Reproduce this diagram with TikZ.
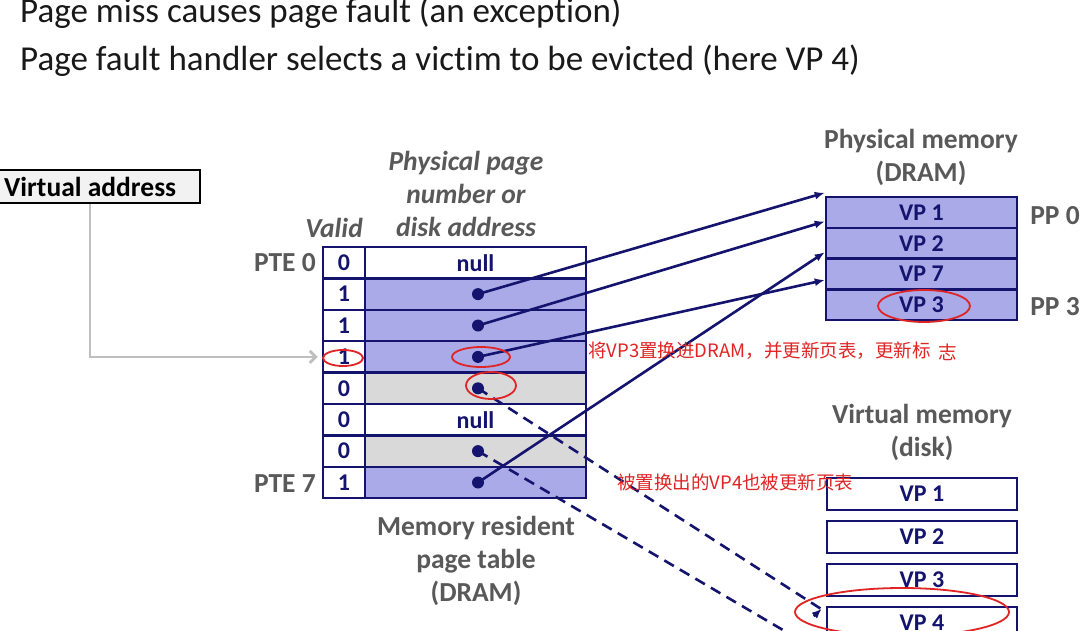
\documentclass[tikz,border=0pt]{standalone}
\usepackage{fontspec}
\setmainfont[Ligatures=NoCommon]{Carlito}
\newfontfamily\cjk{Noto Sans CJK SC}
\usetikzlibrary{arrows.meta,calc}
\definecolor{navy}{HTML}{14146E}
\definecolor{pblue}{HTML}{AAAAE8}
\definecolor{pgrey}{HTML}{D9D9D9}
\definecolor{lbl}{HTML}{595959}
\definecolor{ared}{HTML}{E02424}
\definecolor{vafill}{HTML}{F2F2F2}
\definecolor{conngrey}{HTML}{BFBFBF}
\tikzset{
  cell/.style={draw=navy, line width=2.5pt, inner sep=0pt, font=\bfseries\fontsize{24}{28}\selectfont, text=navy},
  vcell/.style={cell, fill=white, minimum width=42pt, minimum height=31.4pt},
  pcell/.style={cell, minimum width=221pt, minimum height=31.4pt},
  mcell/.style={cell, fill=pblue, minimum width=191pt, minimum height=30.75pt},
  dcell/.style={cell, fill=white, minimum width=190pt, minimum height=32pt},
  dotn/.style={circle, fill=navy, inner sep=0pt, minimum size=12pt},
  ptr/.style={navy, line width=2.6pt, -{Latex[length=10pt,width=8pt]}},
  dptr/.style={navy, line width=2.6pt, dash pattern=on 11pt off 7pt},
  glabel/.style={text=lbl, font=\bfseries\fontsize{27.5}{33}\selectfont, align=center, inner sep=0pt},
  ilabel/.style={glabel, font=\bfseries\itshape\fontsize{27.5}{33}\selectfont},
  note/.style={text=ared, font=\cjk\fontsize{18.5}{20}\selectfont, inner sep=0pt, anchor=base west},
  redring/.style={draw=ared, line width=1.8pt},
  title/.style={font=\fontsize{35}{40}\selectfont, inner sep=0pt, anchor=base west, text=black!90}
}
\begin{document}
\begin{tikzpicture}[x=1pt,y=-1pt]
\useasboundingbox (0,0) rectangle (1080,630);
\clip (0,0) rectangle (1080,630);
\fill[white] (0,0) rectangle (1080,630);

% title lines
\node[title] (t1) at (20,22) {Page miss causes page fault (an exception)};
\node[title] (t2) at (20,70) {Page fault handler selects a victim to be evicted (here VP 4)};

% virtual address
\node[draw=black, line width=1.2pt, fill=vafill, minimum width=201pt, minimum height=33pt, inner sep=0pt] (va) at (99.5,186.5) {};
\node[anchor=west, inner sep=0pt, font=\bfseries\fontsize{27.5}{30}\selectfont] (vat) at (4,187) {Virtual address};

% page table
\foreach \i/\v/\f in {0/0/white,1/1/pblue,2/1/pblue,3/1/pblue,4/0/pgrey,5/0/white,6/0/pgrey,7/1/pblue}{
  \node[vcell] (v\i) at (344, {247+31.4*(\i+0.5)}) {\v};
  \node[pcell, fill=\f] (p\i) at (475.5, {247+31.4*(\i+0.5)}) {};
}
\node[text=navy, font=\bfseries\fontsize{24}{28}\selectfont] (n0) at (p0) {null};
\node[text=navy, font=\bfseries\fontsize{24}{28}\selectfont] (n5) at (p5) {null};
\foreach \i in {1,2,3,4,6,7}{
  \node[dotn] (d\i) at (478, {247+31.4*(\i+0.5)}) {};
}

\node[glabel, anchor=east] (pte0) at (316,263) {PTE 0};
\node[glabel, anchor=east] (pte7) at (316,484) {PTE 7};
\node[ilabel] (valid) at (334,228) {Valid};
\node[ilabel] (ppn) at (466,194) {Physical page\\number or\\disk address};
\node[glabel] (mrpt) at (476,561) {Memory resident\\page table\\(DRAM)};

% physical memory
\foreach \i/\t in {1/VP 1,2/VP 2,3/VP 7,4/VP 3}{
  \node[mcell] (m\i) at (921.5, {197+30.75*(\i-0.5)}) {\t};
}
\node[glabel] (pmh) at (921,157) {Physical memory\\(DRAM)};
\node[glabel] (pp0) at (1055,216) {PP 0};
\node[glabel] (pp3) at (1055,307) {PP 3};

% virtual memory (disk)
\node[glabel] (vmh) at (922,432) {Virtual memory\\(disk)};
\node[dcell] (k1) at (922,494) {VP 1};
\node[dcell] (k2) at (922,537) {VP 2};
\node[dcell] (k3) at (922,580) {VP 3};
\node[dcell] (k4) at (922,623) {VP 4};

% connectors
\draw[conngrey, line width=2.8pt, -{Straight Barb[length=6pt,width=12pt]}]
  ([xshift=-9.5pt]va.south) |- ([xshift=-4pt]v3.west);
\draw[ptr] (d1.center) -- ([yshift=3pt]m1.north west);
\draw[ptr] (d2.center) -- ([yshift=5pt]m2.north west);
\draw[ptr] (d7.center) -- ([yshift=5pt]m3.north west);
\draw[ptr] (d3.center) -- ([yshift=8pt]m4.north west);
\coordinate (off) at (800,640);
\draw[dptr] (d4.center) -- ([xshift=-5pt,yshift=-3pt]k4.north west);
\draw[navy, -{Latex[length=10pt,width=8pt]}, line width=2.6pt] ([xshift=-12pt,yshift=-10.5pt]k4.north west) -- ([xshift=-4pt,yshift=-3pt]k4.north west);
\draw[dptr] (d6.center) -- (off);

% red annotations
\node[note] (c1) at (588,357) {将VP3置换进DRAM，并更新页表，更新标\hspace{8pt}\raisebox{-2pt}{志}};
\node[note] (c2) at (617,489) {被置换出的VP4也被更新页表};
\draw[redring] (343,358) ellipse [x radius=20, y radius=8];
\draw[redring] (481,357) ellipse [x radius=29, y radius=10];
\draw[redring] (491,385.5) ellipse [x radius=25, y radius=13.5];
\draw[redring] (924,306) ellipse [x radius=46, y radius=16];
\draw[redring] (902,612) ellipse [x radius=107, y radius=24];
\end{tikzpicture}
\end{document}
